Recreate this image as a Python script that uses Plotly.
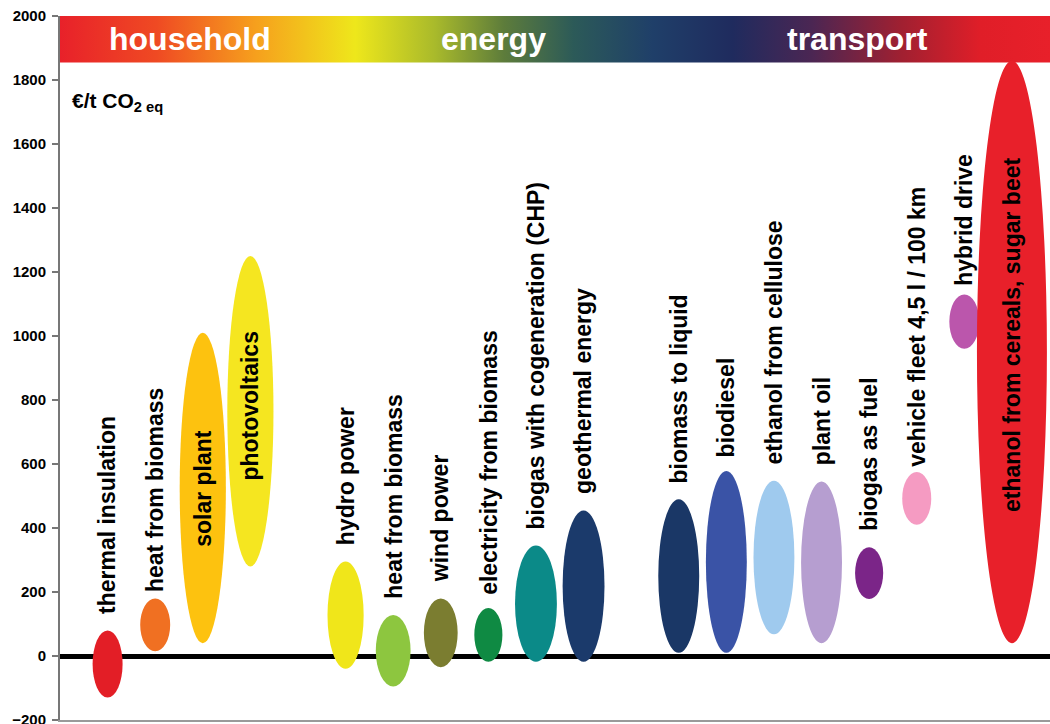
import plotly.graph_objects as go

# Abatement cost ranges in EUR per tonne CO2 equivalent
GROUPS = ["household", "energy", "transport"]
HOUSEHOLD = ["thermal insulation", "heat from biomass", "solar plant", "photovoltaics"]
ENERGY = ["hydro power", "heat from biomass", "wind power", "electricity from biomass",
          "biogas with cogeneration (CHP)", "geothermal energy"]
TRANSPORT = ["biomass to liquid", "biodiesel", "ethanol from cellulose", "plant oil",
             "biogas as fuel", "vehicle fleet 4,5 l / 100 km", "hybrid drive",
             "ethanol from cereals, sugar beet"]

COST_LOW = [-130, 15, 40, 280,
            -40, -95, -35, -18, -18, -18,
            10, 10, 68, 40, 178, 410, 960, 40]
COST_HIGH = [80, 180, 1010, 1250,
             295, 128, 180, 150, 345, 455,
             490, 578, 548, 545, 340, 575, 1130, 1860]

Y_TICKS = list(range(-200, 2001, 200))

# style
COLORS = ["#e31e26", "#f07022", "#fdc20f", "#f5e620",
          "#f0e61a", "#8dc63f", "#7b7d30", "#0f8a43", "#0b8a88", "#1b3a6b",
          "#1a3766", "#3a53a6", "#9fcaee", "#b69ed0", "#7b2588", "#f59bc2",
          "#bb56ac", "#e8202a"]
WIDTHS = [0.63, 0.63, 0.97, 0.97,
          0.76, 0.73, 0.71, 0.59, 0.88, 0.88,
          0.86, 0.86, 0.86, 0.86, 0.59, 0.61, 0.63, 1.47]
LABEL_GAP = [14, 4, 0, 0,
             14, 14, 14, 11, 14, 14,
             14, 12, 14, 14, 14, 3, 7, 0]
INSIDE = {2: 0, 3: 6, 17: 17}  # index -> yshift of label drawn inside the ellipse

BAND_SCALE = [[0.0, "#e8202a"], [0.1, "#ef4a23"], [0.2, "#f6a01d"], [0.3, "#eee71b"],
              [0.38, "#a9ba2b"], [0.45, "#5d7c3b"], [0.52, "#2c5a58"], [0.6, "#1f3f69"],
              [0.68, "#1f2b5e"], [0.76, "#4b2653"], [0.85, "#a02031"], [0.93, "#e01e28"],
              [1.0, "#e8202a"]]
BAND_TOP, BAND_BOTTOM = 2000, 1855
X_MAX = 20.8
FONT = "Liberation Sans, Arial, sans-serif"

# slot index: items in a row, one empty slot between groups
names, slots = [], []
slot = 1
for items in (HOUSEHOLD, ENERGY, TRANSPORT):
    for n in items:
        names.append(n)
        slots.append(slot)
        slot += 1
    slot += 1

fig = go.Figure()

# gradient header band
fig.add_scatter(
    x=[-0.05, X_MAX, X_MAX, -0.05, -0.05],
    y=[BAND_BOTTOM, BAND_BOTTOM, BAND_TOP, BAND_TOP, BAND_BOTTOM],
    mode="lines", line=dict(width=0), fill="toself",
    fillgradient=dict(type="horizontal", colorscale=BAND_SCALE),
    hoverinfo="skip", showlegend=False, cliponaxis=False,
)

shapes = []
annotations = []
for i, n in enumerate(names):
    xc = slots[i]
    w = WIDTHS[i] / 2
    shapes.append(dict(
        type="circle", xref="x", yref="y", layer="above",
        x0=xc - w, x1=xc + w, y0=COST_LOW[i], y1=COST_HIGH[i],
        fillcolor=COLORS[i], line=dict(width=0),
    ))
    lab = dict(x=xc, xref="x", yref="y", text=n, textangle=-90, showarrow=False,
               font=dict(family=FONT, size=23, color="black", weight="bold"))
    if i in INSIDE:
        lab.update(y=(COST_LOW[i] + COST_HIGH[i]) / 2, yanchor="middle", yshift=INSIDE[i])
    else:
        lab.update(y=COST_HIGH[i], yanchor="bottom", yshift=LABEL_GAP[i])
    annotations.append(lab)

for g, px in zip(GROUPS, [0.131, 0.438, 0.806]):
    annotations.append(dict(
        x=px, y=1928, xref="paper", yref="y", text=g, showarrow=False,
        xanchor="center", yanchor="middle",
        font=dict(family=FONT, size=32, color="white", weight="bold"),
    ))

annotations.append(dict(
    x=0.01, y=1730, xref="paper", yref="y", xanchor="left", yanchor="middle",
    text="€/t CO<sub>2 eq</sub>", showarrow=False,
    font=dict(family=FONT, size=21, color="black", weight="bold"),
))

fig.update_layout(
    width=1050, height=724,
    margin=dict(l=60, r=0, t=16, b=4),
    paper_bgcolor="white", plot_bgcolor="white",
    shapes=shapes, annotations=annotations,
    showlegend=False,
    xaxis=dict(range=[0, X_MAX], showticklabels=False, ticks="", showgrid=False,
               zeroline=False, showline=True, linecolor="#9a9a9a", linewidth=2,
               automargin=False),
    yaxis=dict(range=[-200, 2000], tickvals=Y_TICKS, ticks="outside", ticklen=6,
               tickcolor="#777777", tickwidth=1.5, showgrid=False,
               showline=True, linecolor="#777777", linewidth=2, layer="below traces",
               zeroline=True, zerolinecolor="black", zerolinewidth=5,
               ticklabeloverflow="allow", ticklabelstandoff=3, automargin=False,
               tickfont=dict(family=FONT, size=15, color="black", weight="bold")),
)

fig.write_html("out.html", config={"displayModeBar": False},
               post_script="document.body.style.margin='0px';")
